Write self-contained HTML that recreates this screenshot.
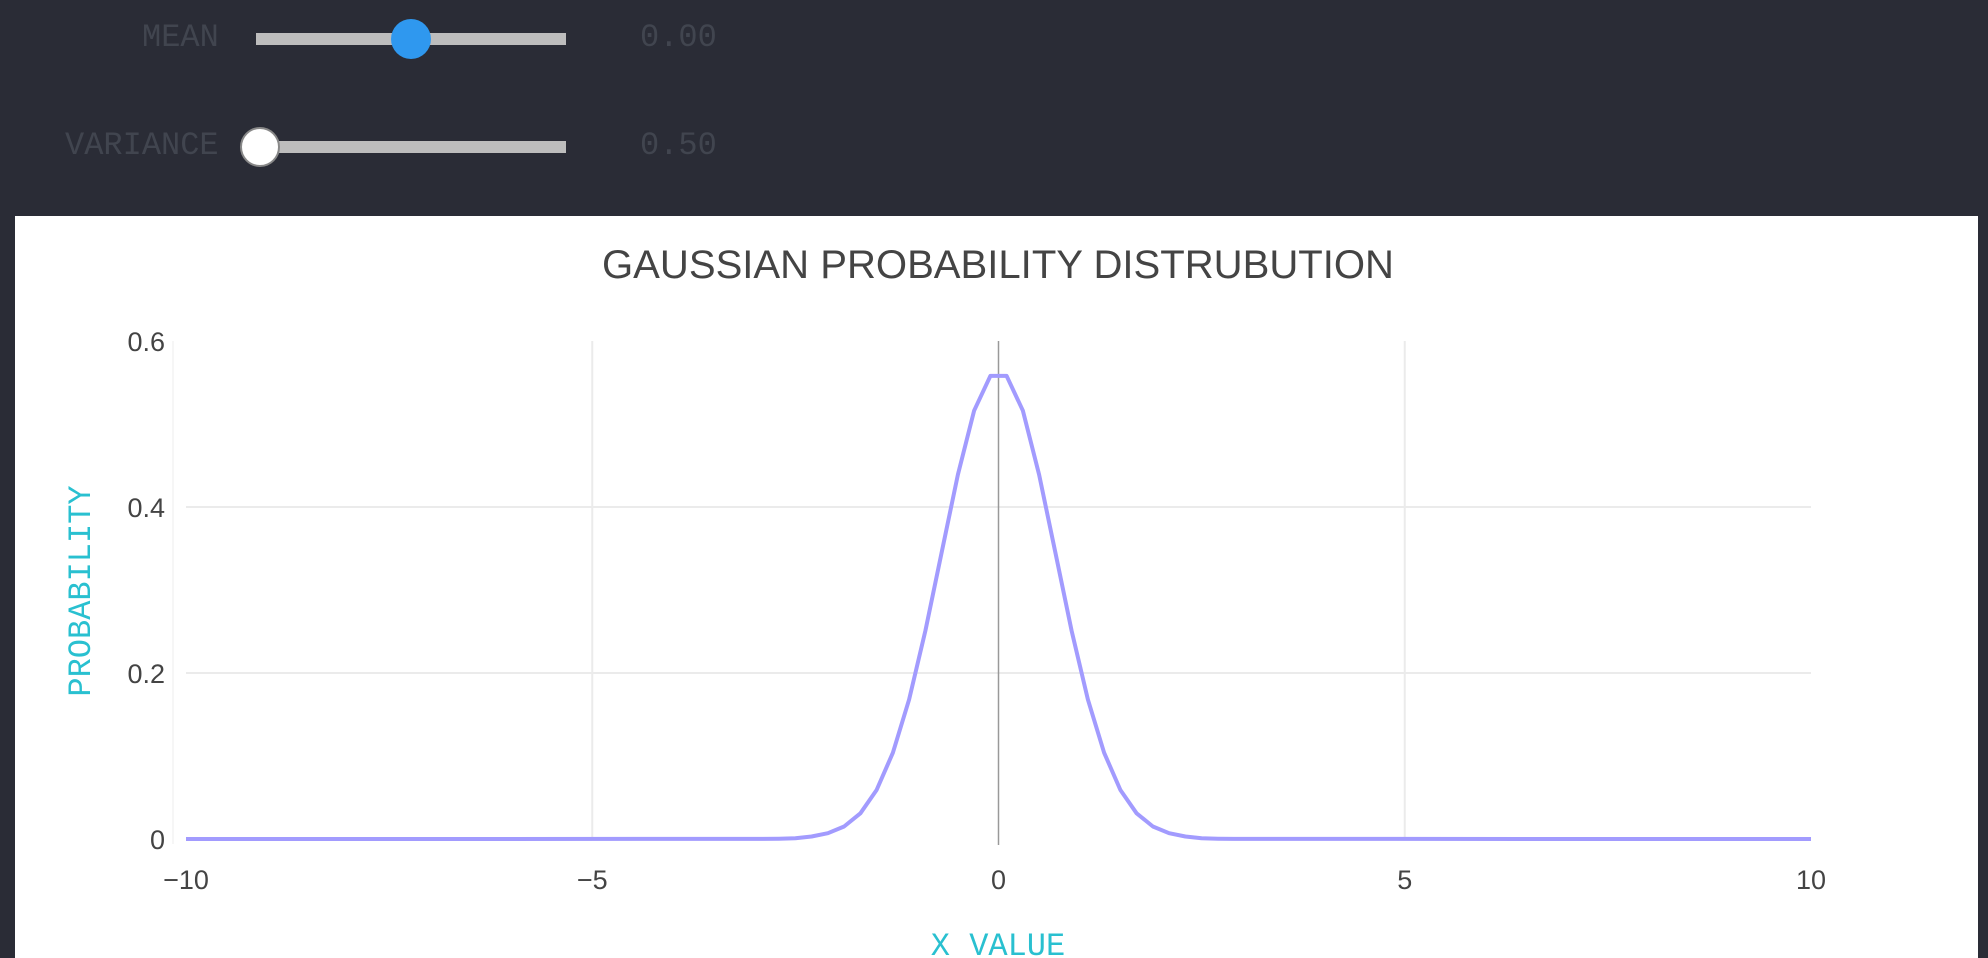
<!DOCTYPE html>
<html><head><meta charset="utf-8"><style>
html,body{margin:0;padding:0;width:1988px;height:958px;background:#2a2c36;overflow:hidden}
.lbl{position:absolute;font-family:"Liberation Mono",monospace;font-size:32px;color:#41454f}
.track{position:absolute;height:12px;background:#bdbdbd}
.thumb{position:absolute;width:40px;height:40px;border-radius:50%}
#panel{position:absolute;left:15px;top:216px;width:1963px;height:742px;background:#fff}
</style></head><body>
<div class="lbl" style="left:142px;top:19px">MEAN</div>
<div class="track" style="left:256px;top:33px;width:310px"></div>
<div class="thumb" style="left:391px;top:19px;background:#2f98ef"></div>
<div class="lbl" style="left:640px;top:19px">0.00</div>
<div class="lbl" style="left:65px;top:127px">VARIANCE</div>
<div class="track" style="left:256px;top:141px;width:310px"></div>
<div class="thumb" style="left:240px;top:127px;background:#fff;border:2px solid #888;box-sizing:border-box"></div>
<div class="lbl" style="left:640px;top:127px">0.50</div>
<div id="panel"></div>
<svg id="chart" width="1988" height="958" style="position:absolute;left:0;top:0"></svg>
<script>
const xValues=[-10,-2.9,-2.7,-2.5,-2.3,-2.1,-1.9,-1.7,-1.5,-1.3,-1.1,-0.9,-0.7,-0.5,-0.3,-0.1,0.1,0.3,0.5,0.7,0.9,1.1,1.3,1.5,1.7,1.9,2.1,2.3,2.5,2.7,2.9,10];
const yValues=[0,0.0001,0.0004,0.001,0.003,0.007,0.015,0.031,0.059,0.104,0.168,0.251,0.345,0.439,0.516,0.558,0.558,0.516,0.439,0.345,0.251,0.168,0.104,0.059,0.031,0.015,0.007,0.003,0.001,0.0004,0.0001,0];
const xTicks=[-10,-5,0,5,10];
const xTickLabels=["\u221210","\u22125","0","5","10"];
const yTicks=[0,0.2,0.4,0.6];
const yTickLabels=["0","0.2","0.4","0.6"];
const X0=186,X1=1811,Y0=839,Y1=341;
function sx(v){return X0+(v+10)/20*(X1-X0);}
function sy(v){return Y0-v/0.6*(Y0-Y1);}
const svg=document.getElementById('chart');const NS='http://www.w3.org/2000/svg';
function mk(t,a){const e=document.createElementNS(NS,t);for(const k in a)e.setAttribute(k,a[k]);svg.appendChild(e);return e;}
yTicks.forEach((v,i)=>{
 if(v>0&&v<0.6){const g=mk('line',{x1:X0,x2:X1,y1:sy(v),y2:sy(v),stroke:'#ebebeb','stroke-width':2});
 
 }
 const t=mk('text',{x:165,y:sy(v)+10,'text-anchor':'end','font-family':'Liberation Sans, sans-serif','font-size':27,fill:'#444'});
 t.textContent=yTickLabels[i];
 
 
});
xTicks.forEach((v,i)=>{
 if(v===-5||v===5){const g=mk('line',{x1:sx(v),x2:sx(v),y1:Y1,y2:Y0,stroke:'#ebebeb','stroke-width':2});
 
 }
 if(v===0){const z=mk('line',{x1:sx(v),x2:sx(v),y1:Y1,y2:Y0+6,stroke:'#999','stroke-width':1.5});
 
 }
 const t=mk('text',{x:sx(v),y:889,'text-anchor':'middle','font-family':'Liberation Sans, sans-serif','font-size':27,fill:'#444'});
 t.textContent=xTickLabels[i];
 
 
});
const ax=mk('line',{x1:173,x2:173,y1:Y1,y2:Y0+5,stroke:'#f3f3f3','stroke-width':1.5});


const pts=xValues.map((x,i)=>sx(x).toFixed(1)+','+sy(yValues[i]).toFixed(1)).join(' ');
const line=mk('polyline',{points:pts,fill:'none',stroke:'#a29bfe','stroke-width':4,'stroke-linejoin':'round'});


const title=mk('text',{x:998,y:278,'text-anchor':'middle','font-family':'Liberation Sans, sans-serif','font-size':40,fill:'#444',textLength:792,lengthAdjust:'spacingAndGlyphs'});
title.textContent='GAUSSIAN PROBABILITY DISTRUBUTION';


const xt=mk('text',{x:998,y:955,'text-anchor':'middle','font-family':'Liberation Mono, monospace','font-size':32,fill:'#29c0d0'});
xt.textContent='X VALUE';


const yt=mk('text',{x:0,y:0,'text-anchor':'middle','font-family':'Liberation Mono, monospace','font-size':32,fill:'#29c0d0',transform:'translate(90,591) rotate(-90)'});
yt.textContent='PROBABILITY';


</script>
</body></html>
